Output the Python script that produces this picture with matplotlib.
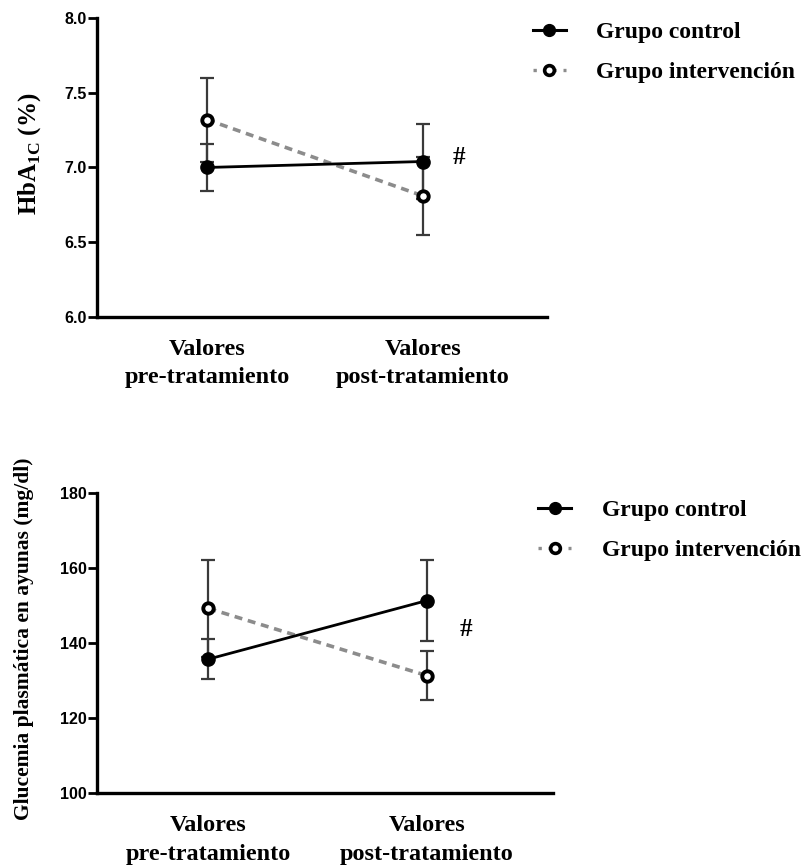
import matplotlib
matplotlib.use("Agg")
import matplotlib.pyplot as plt
from matplotlib.lines import Line2D

# Datos
categorias = ["Valores\npre-tratamiento", "Valores\npost-tratamiento"]
hba1c_control = [7.00, 7.04]
hba1c_control_err = [0.16, 0.25]
hba1c_interv = [7.32, 6.81]
hba1c_interv_err = [0.28, 0.26]

gluc_control = [135.7, 151.3]
gluc_control_err = [5.4, 10.8]
gluc_interv = [149.2, 131.3]
gluc_interv_err = [12.9, 6.6]

x = [0, 1]
SERIF = "Liberation Serif"
SANS = "Liberation Sans"


def panel(ax, yc, ec, yi, ei, ylim, yticks, fmt):
    # grupo intervención (gris discontinuo, círculo abierto)
    ax.errorbar(x, yi, yerr=ei, fmt="none", ecolor="#3a3a3a", elinewidth=1.6,
                capsize=5, capthick=1.6, zorder=2)
    ax.plot(x, yi, color="#8c8c8c", lw=2.6, ls=(0, (2.2, 1.6)), zorder=3)
    ax.plot(x, yi, "o", ms=7.5, mfc="white", mec="black", mew=2.8, ls="none", zorder=5)
    # grupo control (negro continuo)
    ax.errorbar(x, yc, yerr=ec, fmt="none", ecolor="#3a3a3a", elinewidth=1.6,
                capsize=5, capthick=1.6, zorder=2)
    ax.plot(x, yc, "-", color="black", lw=2, zorder=4)
    ax.plot(x, yc, "o", ms=9.5, color="black", ls="none", zorder=6)

    ax.set_ylim(*ylim)
    ax.set_xlim(-0.51, 1.575)
    ax.set_yticks(yticks)
    ax.set_yticklabels([fmt.format(v) for v in yticks], fontfamily=SANS,
                       fontweight="bold", fontsize=11.5)
    ax.set_xticks(x)
    ax.set_xticklabels(categorias, fontfamily=SERIF, fontweight="bold",
                       fontsize=17.5, linespacing=1.45)
    ax.tick_params(axis="x", length=0, pad=16)
    ax.tick_params(axis="y", length=6.5, width=2, pad=1)
    for s in ["top", "right"]:
        ax.spines[s].set_visible(False)
    for s in ["left", "bottom"]:
        ax.spines[s].set_linewidth(2.4)


fig = plt.figure(figsize=(8.08, 8.68), dpi=100)
ax1 = fig.add_axes([0.120, 0.6348, 0.557, 0.3445])
ax2 = fig.add_axes([0.120, 0.0861, 0.564, 0.3463])

panel(ax1, hba1c_control, hba1c_control_err, hba1c_interv, hba1c_interv_err,
      (6.0, 8.0), [6.0, 6.5, 7.0, 7.5, 8.0], "{:.1f}")
panel(ax2, gluc_control, gluc_control_err, gluc_interv, gluc_interv_err,
      (100, 180), [100, 120, 140, 160, 180], "{:.0f}")

ax1.set_ylabel("HbA$_{\\mathregular{1C}}$ (%)", fontfamily=SERIF, fontsize=18,
               fontweight="bold")
ax1.yaxis.set_label_coords(-0.12, 0.545)
ax2.set_ylabel("Glucemia plasmática en ayunas (mg/dl)", fontfamily=SERIF,
               fontsize=15.5, fontweight="bold")
ax2.yaxis.set_label_coords(-0.138, 0.515)

ax1.text(1.14, 7.07, "#", fontfamily=SERIF, fontsize=18, fontweight="bold",
         ha="left", va="center")
ax2.text(1.15, 143.5, "#", fontfamily=SERIF, fontsize=18, fontweight="bold",
         ha="left", va="center")

h_control = Line2D([], [], color="black", lw=2.2, marker="o", ms=8.5)
h_interv = Line2D([], [], color="#8c8c8c", lw=2.4, ls=(0, (1, 2)), marker="o",
                  ms=7, mfc="white", mec="black", mew=2.6)
leg_font = {"family": SERIF, "weight": "bold", "size": 17}
for xpos, ypos in ((0.633, 1.0), (0.640, 0.449)):
    fig.legend([h_control, h_interv], ["Grupo control", "Grupo intervención"],
               loc="upper left", bbox_to_anchor=(xpos, ypos), frameon=False,
               prop=leg_font, handlelength=1.4, handletextpad=1.3,
               labelspacing=0.8)

fig.savefig("out.png", dpi=100)
